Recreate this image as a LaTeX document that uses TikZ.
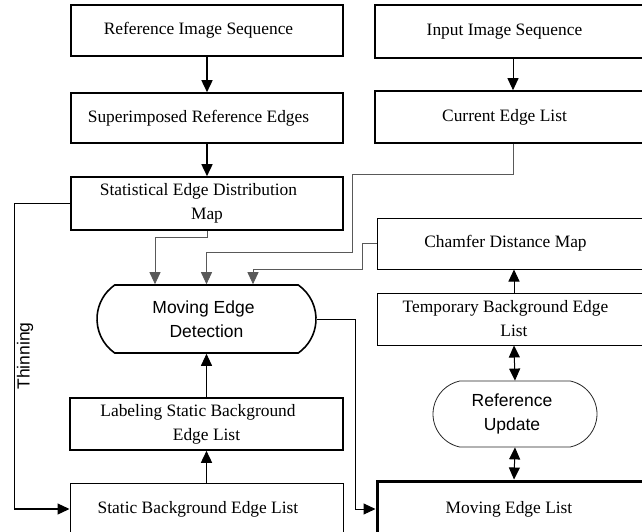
\documentclass[tikz,border=0pt]{standalone}
\usepackage{fontspec}
\setmainfont{Liberation Serif}
\setsansfont{Liberation Sans}
\usetikzlibrary{arrows.meta,shapes.misc,calc}

% a trailing kern that pulls a centred line a little to the left
\newcommand{\lpull}{\kern17pt}

\begin{document}
\begin{tikzpicture}[x=1pt,y=-1pt,
  box/.style={draw, rectangle, inner sep=0pt, align=center,
    font=\fontsize{17.4}{24}\selectfont},
  heavy/.style={line width=1.6pt},
  light/.style={line width=1pt},
  pill/.style={draw, rounded rectangle, inner sep=0pt, align=center,
    font=\sffamily\fontsize{17.5}{24}\selectfont},
  tip/.style={-{Triangle[length=12pt,width=11pt]}},
  both/.style={{Triangle[length=12pt,width=11pt]}-{Triangle[length=12pt,width=11pt]}},
  wire/.style={line width=0.9pt, black!65},
]
\useasboundingbox (0,0) rectangle (642,532);
\clip (0,0) rectangle (642,532);

% left column
\node[box, heavy, minimum width=272pt, minimum height=51pt] (ris) at (207,30.5) {Reference Image Sequence\lpull};
\node[box, heavy, minimum width=272pt, minimum height=50pt] (sre) at (207,118) {Superimposed Reference Edges\lpull};
\node[box, heavy, minimum width=272pt, minimum height=53pt] (sedm) at (207,203.5) {Statistical Edge Distribution\lpull\\Map};
\node[pill, heavy, rounded rectangle arc length=110, minimum width=219pt, minimum height=68pt] (med) at (206.5,319) {Moving Edge\kern6pt\\Detection};
\node[box, heavy, minimum width=273pt, minimum height=52pt] (lsbel) at (206.5,424) {Labeling Static Background\lpull\\Edge List};
\node[box, light, minimum width=273pt, minimum height=52pt] (sbel) at (206.5,509) {Static Background Edge List\lpull};

% right column
\node[box, heavy, minimum width=276pt, minimum height=53pt] (iis) at (513,31.5) {Input Image Sequence\lpull};
\node[box, heavy, minimum width=276pt, minimum height=52pt] (cel) at (513,117) {Current Edge List\lpull};
\node[box, light, minimum width=274pt, minimum height=51pt] (cdm) at (514,243.5) {Chamfer Distance Map\lpull};
\node[box, light, minimum width=274pt, minimum height=52pt] (tbel) at (514,319) {Temporary Background Edge\lpull\\List};
\node[pill, line width=0.8pt, draw=black!85, rounded rectangle arc length=156, minimum width=164pt, minimum height=66pt] (ru) at (515,414) {Reference\kern6pt\\Update\kern6pt};
\node[box, line width=3pt, minimum width=274pt, minimum height=56pt] (mel) at (514,509) {Moving Edge List\kern10pt};

% side label
\node[rotate=90, inner sep=0pt, font=\sffamily\fontsize{17.5}{20}\selectfont] (thin) at (25,356) {Thinning};

% connectors
\draw[heavy, tip] (ris.south) -- (sre.north);
\draw[heavy, tip] (sre.south) -- (sedm.north);
\draw[light, tip] (iis.south) -- (cel.north);
\draw[wire, tip] (sedm.south) -- ++(0,7) -| ($(med.north)+(-51.5,0)$);
\draw[wire, tip] (cel.south) -- ++(0,31) -- ++(-161,0) -- ++(0,78) -| (med.north);
\draw[wire, tip] (cdm.west) -- ++(-14,0) -- ++(0,25.5) -| ($(med.north)+(46.5,0)$);
\draw[line width=1.3pt, tip] (sedm.west) -- ++(-56,0) |- (sbel.west);
\draw[light, tip] (lsbel.north) -- (med.south);
\draw[heavy, tip] (sbel.north) -- (lsbel.south);
\draw[light, tip] (med.east) -- ++(39,0) |- (mel.west);
\draw[light, tip] (tbel.north) -- (cdm.south);
\draw[light, both] (tbel.south) -- (ru.north);
\draw[light, both] (ru.south) -- (mel.north);
\end{tikzpicture}
\end{document}
